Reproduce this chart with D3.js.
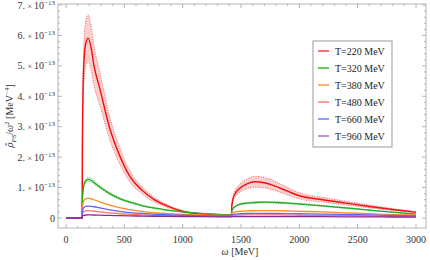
<!DOCTYPE html>
<html><head><meta charset="utf-8">
<script src="https://cdn.jsdelivr.net/npm/d3@7"></script>
<style>body{margin:0;background:#fff}svg{display:block}text{font-family:"Liberation Serif","DejaVu Serif",serif}</style>
</head><body>
<svg id="c" width="430" height="260"></svg>
<script>
// omega grid (MeV)
const omega = [0,139,140,145,155,170,190,215,240,290,375,460,550,650,750,850,1000,1150,1300,1419,1420,1430,1450,1490,1550,1620,1700,1800,1900,2000,2200,2400,2600,2800,3000];
// values in units of 1e-13 MeV^-4
const t220 = [0,0,2.0,4.0,5.2,5.75,5.91,5.6,5.0,4.25,2.95,2.05,1.35,0.92,0.62,0.42,0.22,0.14,0.11,0.095,0.35,0.6,0.8,0.98,1.12,1.19,1.16,1.04,0.88,0.73,0.6,0.49,0.38,0.28,0.19];
const t220Hi = [0,0,2.26,4.52,5.88,6.5,6.68,6.33,5.65,4.8,3.33,2.32,1.53,1.04,0.7,0.47,0.25,0.16,0.125,0.107,0.4,0.68,0.91,1.12,1.28,1.37,1.33,1.19,1.0,0.83,0.68,0.55,0.43,0.31,0.21];
const t220Lo = [0,0,1.74,3.48,4.52,5.0,5.14,4.87,4.35,3.7,2.57,1.78,1.17,0.8,0.54,0.37,0.19,0.12,0.096,0.083,0.3,0.52,0.69,0.84,0.96,1.01,0.99,0.89,0.76,0.63,0.52,0.43,0.33,0.25,0.17];
const t320 = [0,0,0.5,0.85,1.1,1.22,1.27,1.24,1.17,1.02,0.8,0.64,0.52,0.41,0.33,0.27,0.2,0.15,0.12,0.10,0.22,0.3,0.38,0.45,0.49,0.51,0.52,0.51,0.49,0.46,0.4,0.33,0.26,0.19,0.13];
const t320Hi = [0,0,0.53,0.9,1.16,1.28,1.34,1.3,1.23,1.07,0.84,0.67,0.55,0.43,0.35,0.28,0.21,0.16,0.125,0.105,0.23,0.32,0.4,0.47,0.51,0.535,0.545,0.535,0.515,0.48,0.42,0.35,0.27,0.2,0.14];
const t320Lo = [0,0,0.47,0.8,1.04,1.16,1.2,1.18,1.11,0.97,0.76,0.61,0.49,0.39,0.31,0.26,0.19,0.14,0.115,0.095,0.21,0.28,0.36,0.43,0.47,0.485,0.495,0.485,0.465,0.44,0.38,0.31,0.25,0.18,0.12];
const t380 = [0,0,0.3,0.48,0.58,0.63,0.65,0.63,0.6,0.53,0.42,0.34,0.27,0.22,0.18,0.15,0.12,0.1,0.09,0.08,0.14,0.17,0.2,0.22,0.235,0.24,0.245,0.24,0.23,0.22,0.2,0.17,0.14,0.11,0.09];
const t480 = [0,0,0.11,0.18,0.22,0.235,0.24,0.235,0.225,0.2,0.17,0.14,0.12,0.1,0.09,0.08,0.07,0.06,0.055,0.05,0.07,0.08,0.09,0.095,0.1,0.1,0.1,0.1,0.095,0.09,0.085,0.075,0.065,0.055,0.05];
const t660 = [0,0,0.18,0.29,0.35,0.38,0.39,0.385,0.37,0.33,0.27,0.22,0.18,0.15,0.13,0.11,0.09,0.08,0.07,0.065,0.1,0.115,0.13,0.14,0.148,0.15,0.15,0.148,0.145,0.14,0.13,0.115,0.1,0.085,0.07];
const t960 = [0,0,0.05,0.075,0.09,0.098,0.1,0.1,0.098,0.093,0.085,0.077,0.07,0.063,0.057,0.052,0.046,0.042,0.038,0.035,0.04,0.043,0.045,0.047,0.048,0.048,0.048,0.047,0.046,0.045,0.042,0.039,0.036,0.033,0.03];
const seriesNames = ["T=220 MeV","T=320 MeV","T=380 MeV","T=480 MeV","T=660 MeV","T=960 MeV"];
const seriesColors = ["#f01010","#22aa22","#ff8a1e","#ff7070","#6464f0","#8c2a96"];
const legendColors = ["#ff4040","#33bb33","#ff9944","#ff7a7a","#7878ff","#b070c0"];
const xTicks = [0,500,1000,1500,2000,2500,3000];
const yTicks = [0,1,2,3,4,5,6,7];

const svg = d3.select("#c");
const L=58,R=426,T=4,B=228;
const x = d3.scaleLinear().domain([0,3000]).range([66,416]);
const y = d3.scaleLinear().domain([0,7]).range([218,5]);

const series = [t220,t320,t380,t480,t660,t960];
const bands = [[t220Lo,t220Hi,0],[t320Lo,t320Hi,1]];

svg.append("clipPath").attr("id","cp").append("rect").attr("x",L).attr("y",T).attr("width",R-L).attr("height",B-T);
const g = svg.append("g").attr("clip-path","url(#cp)");

const area = d3.area().x((d,i)=>x(omega[i])).y0(d=>y(d[0])).y1(d=>y(d[1])).curve(d3.curveMonotoneX);
const line = d3.line().x((d,i)=>x(omega[i])).y(d=>y(d)).curve(d3.curveMonotoneX);

bands.forEach(([lo,hi,k])=>{
  const c = seriesColors[k];
  g.append("path").datum(lo.map((v,i)=>[v,hi[i]])).attr("d",area).attr("fill",c).attr("fill-opacity",k===0?0.2:0.15);
  [lo,hi].forEach(a=>g.append("path").datum(a).attr("d",line).attr("fill","none").attr("stroke",c).attr("stroke-opacity",0.6).attr("stroke-width",1).attr("stroke-dasharray","1,1.5"));
});
series.forEach((s,k)=>{
  g.append("path").datum(s).attr("d",line).attr("fill","none").attr("stroke",seriesColors[k]).attr("stroke-width",k===0?1.4:1.3);
});

// frame
const fc="#b4b4b4";
svg.append("rect").attr("x",L).attr("y",T).attr("width",R-L).attr("height",B-T).attr("fill","none").attr("stroke",fc).attr("stroke-width",1);
d3.range(0,3001,100).forEach(v=>{
  const major = v%500===0, len = major?4:2;
  svg.append("line").attr("x1",x(v)).attr("x2",x(v)).attr("y1",B).attr("y2",B-len).attr("stroke",fc);
  svg.append("line").attr("x1",x(v)).attr("x2",x(v)).attr("y1",T).attr("y2",T+len).attr("stroke",fc);
});
d3.range(0,36).map(i=>i*0.2).filter(v=>v<=7.001).forEach(v=>{
  const major = Math.abs(v-Math.round(v))<1e-6, len = major?4:2;
  svg.append("line").attr("y1",y(v)).attr("y2",y(v)).attr("x1",L).attr("x2",L+len).attr("stroke",fc);
  svg.append("line").attr("y1",y(v)).attr("y2",y(v)).attr("x1",R).attr("x2",R-len).attr("stroke",fc);
});
svg.selectAll(".xl").data(xTicks).enter().append("text").attr("x",d=>x(d)).attr("y",243).attr("text-anchor","middle")
  .attr("font-size",10).attr("fill","#333").text(d=>d);
yTicks.forEach(v=>{
  const t = svg.append("text").attr("x",55).attr("y",y(v)+3.5).attr("text-anchor","end").attr("font-size",10).attr("fill","#333");
  if(v===0){t.text("0");return;}
  t.append("tspan").text(v+". ");
  t.append("tspan").attr("font-size",8).text("× ");
  t.append("tspan").text("10");
  t.append("tspan").attr("font-size",7).attr("dy",-4).text("−13");
});
const xt = svg.append("text").attr("x",240).attr("y",255).attr("text-anchor","middle").attr("font-size",10).attr("fill","#333");
xt.append("tspan").attr("font-style","italic").text("ω");
xt.append("tspan").text(" [MeV]");
const yt = svg.append("text").attr("transform","translate(13,116) rotate(-90)").attr("text-anchor","middle").attr("font-size",10).attr("fill","#333");
yt.append("tspan").attr("font-style","italic").attr("font-family","DejaVu Serif").attr("font-size",9).text("ρ̃");
yt.append("tspan").attr("font-size",7).attr("dy",2.5).attr("font-style","italic").text("PS");
yt.append("tspan").attr("dy",-2.5).text("/");
yt.append("tspan").attr("font-style","italic").text("ω");
yt.append("tspan").attr("font-size",7).attr("dy",-4).text("2");
yt.append("tspan").attr("dy",4).text(" [MeV");
yt.append("tspan").attr("font-size",7).attr("dy",-4).text("−4");
yt.append("tspan").attr("dy",4).text("]");

const lg = svg.append("g");
lg.append("rect").attr("x",313).attr("y",41).attr("width",79).attr("height",106).attr("fill","#fff").attr("stroke","#999").attr("stroke-width",1);
seriesNames.forEach((n,i)=>{
  const yy = 51+i*17;
  lg.append("line").attr("x1",318).attr("x2",329).attr("y1",yy).attr("y2",yy).attr("stroke",legendColors[i]).attr("stroke-width",1.5);
  lg.append("text").attr("x",335).attr("y",yy+3.5).attr("font-size",10).attr("fill","#222").text(n);
});
</script>
</body></html>
